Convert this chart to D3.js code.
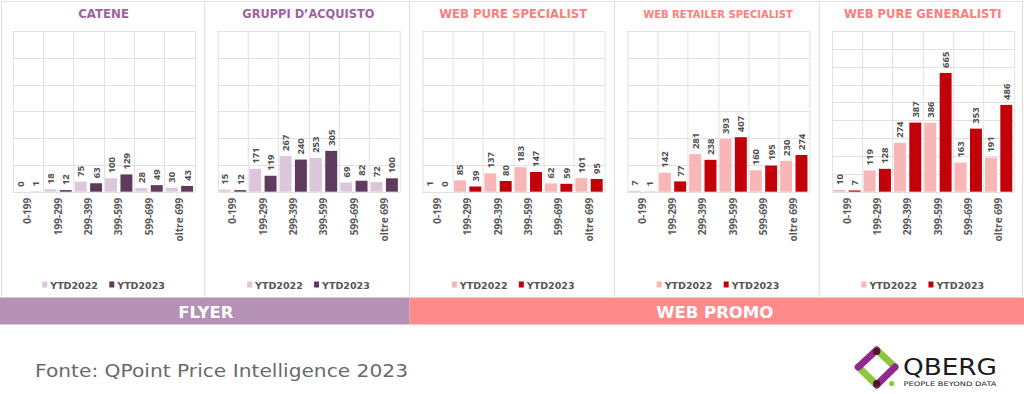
<!DOCTYPE html>
<html>
<head>
<meta charset="utf-8">
<script src="https://cdn.jsdelivr.net/npm/d3@7"></script>
<style>
  html, body { margin: 0; padding: 0; background: #fff; }
  svg { display: block; }
</style>
</head>
<body>
<svg id="chart" width="1024" height="394"></svg>
<script>
// ---- DATA ----
const categories = ["0-199", "199-299", "299-399", "399-599", "599-699", "oltre 699"];
const seriesNames = ["YTD2022", "YTD2023"];
const panelTitles = ["CATENE", "GRUPPI D\u2019ACQUISTO", "WEB PURE SPECIALIST", "WEB RETAILER SPECIALIST", "WEB PURE GENERALISTI"];
const catene2022 = [0, 18, 75, 100, 28, 30];
const catene2023 = [1, 12, 63, 129, 49, 43];
const gruppi2022 = [15, 171, 267, 253, 69, 72];
const gruppi2023 = [12, 119, 240, 305, 82, 100];
const webPureSpec2022 = [1, 85, 137, 183, 62, 101];
const webPureSpec2023 = [0, 39, 80, 147, 59, 95];
const webRetSpec2022 = [7, 142, 281, 393, 160, 230];
const webRetSpec2023 = [1, 77, 238, 407, 195, 274];
const webPureGen2022 = [10, 119, 274, 386, 163, 191];
const webPureGen2023 = [7, 128, 387, 665, 353, 486];
const panelMax = [1200, 1200, 1200, 1200, 900];
const panelTickCount = [6, 6, 6, 6, 9];
const groupLabels = ["FLYER", "WEB PROMO"];
const sourceText = "Fonte: QPoint Price Intelligence 2023";

// ---- STYLE ----
const flyerTheme = { title: "#9e629e", c2022: "#dcc6dc", c2023: "#5e3a5d", banner: "#b592b5" };
const webTheme = { title: "#ff7d7d", c2022: "#f8b6b6", c2023: "#c20008", banner: "#ff8a8a" };

const panels = [
  { title: panelTitles[0], v2022: catene2022, v2023: catene2023, theme: flyerTheme, max: panelMax[0], ticks: panelTickCount[0], tsize: 11.8 },
  { title: panelTitles[1], v2022: gruppi2022, v2023: gruppi2023, theme: flyerTheme, max: panelMax[1], ticks: panelTickCount[1], tsize: 11.4 },
  { title: panelTitles[2], v2022: webPureSpec2022, v2023: webPureSpec2023, theme: webTheme, max: panelMax[2], ticks: panelTickCount[2], tsize: 11.7 },
  { title: panelTitles[3], v2022: webRetSpec2022, v2023: webRetSpec2023, theme: webTheme, max: panelMax[3], ticks: panelTickCount[3], tsize: 10 },
  { title: panelTitles[4], v2022: webPureGen2022, v2023: webPureGen2023, theme: webTheme, max: panelMax[4], ticks: panelTickCount[4], tsize: 11.6 }
];

const svg = d3.select("#chart");
const W = 1024;
const panelW = W / 5;
const panelTop = 1, panelBottom = 297.5;
const plotL = 12.6, plotR = 194.6, plotT = 31, plotB = 191.7;
const gridColor = "#e2e2e2";

// outer frame lines
svg.append("line").attr("x1", 1).attr("x2", W).attr("y1", panelTop + 0.5).attr("y2", panelTop + 0.5)
  .attr("stroke", "#e4e4e4").attr("stroke-width", 1);
for (let i = 0; i <= 5; i++) {
  const x = i === 0 ? 1.5 : Math.min(i * panelW, W - 1.5);
  svg.append("line").attr("x1", x).attr("x2", x).attr("y1", panelTop).attr("y2", panelBottom)
    .attr("stroke", "#dcdcdc").attr("stroke-width", 1);
}

panels.forEach((p, i) => {
  const g = svg.append("g").attr("transform", `translate(${i * panelW},0)`);
  const x = d3.scaleBand().domain(categories).range([plotL, plotR]).padding(0);
  const xs = d3.scaleBand().domain(seriesNames).range([0, x.bandwidth()]).paddingInner(0.22).paddingOuter(0.1);
  const y = d3.scaleLinear().domain([0, p.max]).range([plotB, plotT]);

  // title
  g.append("text").attr("x", (plotL + plotR) / 2).attr("y", 17.5)
    .attr("text-anchor", "middle")
    .attr("font-family", "DejaVu Sans").attr("font-weight", "bold")
    .attr("font-size", p.tsize).attr("fill", p.theme.title)
    .text(p.title);

  // horizontal gridlines
  g.append("g").selectAll("line").data(y.ticks(p.ticks)).join("line")
    .attr("x1", plotL).attr("x2", plotR)
    .attr("y1", d => Math.round(y(d)) + 0.5).attr("y2", d => Math.round(y(d)) + 0.5)
    .attr("stroke", gridColor).attr("stroke-width", 1);
  // vertical gridlines
  const vx = categories.map(c => x(c)).concat([plotR]);
  g.append("g").selectAll("line").data(vx).join("line")
    .attr("x1", d => Math.round(d) + 0.5).attr("x2", d => Math.round(d) + 0.5)
    .attr("y1", plotT).attr("y2", plotB)
    .attr("stroke", gridColor).attr("stroke-width", 1);

  const rows = categories.map((c, k) => ({ c, vals: [p.v2022[k], p.v2023[k]] }));
  const colors = [p.theme.c2022, p.theme.c2023];

  const cg = g.append("g").selectAll("g").data(rows).join("g")
    .attr("transform", d => `translate(${x(d.c)},0)`);

  cg.selectAll("rect").data(d => d.vals.map((v, s) => ({ v, s }))).join("rect")
    .attr("x", d => xs(seriesNames[d.s]))
    .attr("width", xs.bandwidth())
    .attr("y", d => y(d.v))
    .attr("height", d => plotB - y(d.v))
    .attr("fill", d => colors[d.s]);

  cg.selectAll("text.val").data(d => d.vals.map((v, s) => ({ v, s }))).join("text")
    .attr("class", "val")
    .attr("transform", d => `translate(${xs(seriesNames[d.s]) + xs.bandwidth() / 2},${y(d.v) - 5}) rotate(-90)`)
    .attr("text-anchor", "start").attr("dy", "0.36em")
    .attr("font-family", "Open Sans").attr("font-weight", 700).attr("font-size", 9.5)
    .attr("fill", "#505050")
    .text(d => d.v);

  // category labels
  g.append("g").selectAll("text").data(categories).join("text")
    .attr("transform", c => `translate(${x(c) + x.bandwidth() / 2},${plotB + 6}) rotate(-90)`)
    .attr("text-anchor", "end").attr("dy", "0.36em")
    .attr("font-family", "Open Sans").attr("font-weight", 700).attr("font-size", 10)
    .attr("fill", "#5a5a5a")
    .text(c => c);

  // legend
  const lg = g.append("g");
  const items = lg.selectAll("g").data(seriesNames).join("g");
  items.append("rect").attr("x", (d, s) => s * 67).attr("y", 281.5).attr("width", 5).attr("height", 6)
    .attr("fill", (d, s) => colors[s]);
  items.append("text").attr("x", (d, s) => s * 67 + 8).attr("y", 288.5)
    .attr("font-family", "DejaVu Sans").attr("font-weight", "bold").attr("font-size", 9.5)
    .attr("fill", "#555").text(d => d);
  const bb = lg.node().getBBox();
  lg.attr("transform", `translate(${(plotL + plotR) / 2 - bb.width / 2 - bb.x},0)`);
});

// banners
const bannerX = [0, 2 * panelW, W];
const bannerColors = [flyerTheme.banner, webTheme.banner];
groupLabels.forEach((lab, i) => {
  svg.append("rect").attr("x", bannerX[i]).attr("y", 297.5)
    .attr("width", bannerX[i + 1] - bannerX[i]).attr("height", 27)
    .attr("fill", bannerColors[i]);
  svg.append("text").attr("x", (bannerX[i] + bannerX[i + 1]) / 2 - (i === 0 ? -1 : 2)).attr("y", 317.5)
    .attr("text-anchor", "middle")
    .attr("font-family", "DejaVu Sans").attr("font-weight", "bold").attr("font-size", 16.5)
    .attr("fill", "#fff").text(lab);
});

// source
svg.append("text").attr("x", 35).attr("y", 377)
  .attr("font-family", "DejaVu Sans").attr("font-size", 17.5)
  .attr("fill", "#6a6a6a")
  .attr("textLength", 373).attr("lengthAdjust", "spacingAndGlyphs")
  .text(sourceText);

// logo
const logo = svg.append("g");
const vTop = [876.7, 350], vLeft = [858.3, 367], vRight = [895, 367], vBottom = [876.7, 385];
const seg = (a, b, col) => logo.append("line")
  .attr("x1", a[0]).attr("y1", a[1]).attr("x2", b[0]).attr("y2", b[1])
  .attr("stroke", col).attr("stroke-width", 7).attr("stroke-linecap", "round");
seg(vLeft, vBottom, "#8dc63f");
seg(vTop, vRight, "#8dc63f");
seg(vTop, vLeft, "#93278f");
seg(vBottom, vRight, "#93278f");
logo.append("circle").attr("cx", vTop[0]).attr("cy", vTop[1] + 1.5).attr("r", 3.6).attr("fill", "#4b1a1f");
logo.append("circle").attr("cx", vBottom[0]).attr("cy", vBottom[1] - 1.5).attr("r", 3.6).attr("fill", "#4b1a1f");
logo.append("circle").attr("cx", 891.7).attr("cy", 383.5).attr("r", 2.6).attr("fill", "#8dc63f");
logo.append("text").attr("x", 903).attr("y", 374.5)
  .attr("font-family", "DejaVu Sans").attr("font-size", 23).attr("fill", "#1c1c1c")
  .attr("textLength", 94).attr("lengthAdjust", "spacingAndGlyphs")
  .text("QBERG");
logo.append("text").attr("x", 903.5).attr("y", 386)
  .attr("font-family", "DejaVu Sans").attr("font-size", 6.2).attr("fill", "#1c1c1c")
  .attr("textLength", 93).attr("lengthAdjust", "spacingAndGlyphs")
  .text("PEOPLE BEYOND DATA");
</script>
</body>
</html>
